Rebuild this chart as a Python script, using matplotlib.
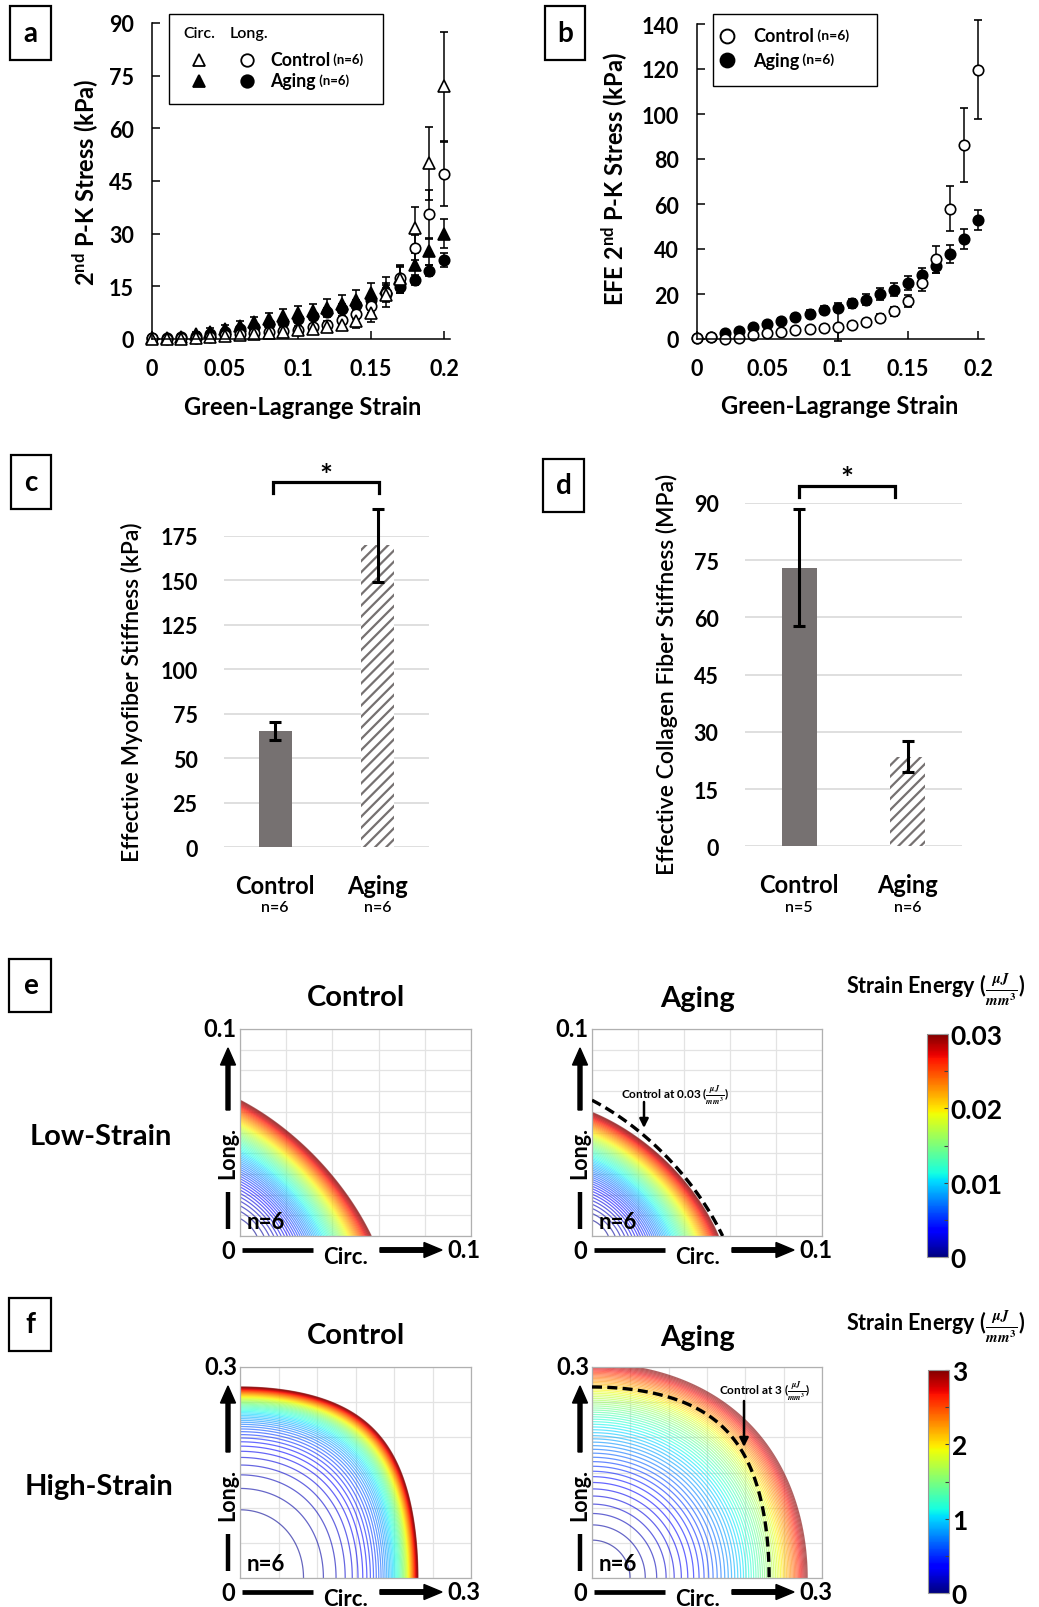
"""
aging myocardium: biaxial stress-strain, fitted stiffness, strain energy maps
"""
import numpy as np
import matplotlib
matplotlib.use('Agg')
import matplotlib.pyplot as plt
from matplotlib.patches import Rectangle
from matplotlib.colors import Normalize
from matplotlib.cm import ScalarMappable

plt.rcParams['font.family'] = ['Lato', 'DejaVu Sans']
plt.rcParams['font.weight'] = 'bold'
plt.rcParams['axes.labelweight'] = 'bold'
plt.rcParams['mathtext.fontset'] = 'custom'
plt.rcParams['mathtext.rm'] = 'Lato'
plt.rcParams['mathtext.bf'] = 'Lato:bold'
plt.rcParams['mathtext.it'] = 'Lato:italic'
plt.rcParams['hatch.linewidth'] = 1.6

# ---------- data ----------
strain = [0.0, 0.01, 0.02, 0.03, 0.04, 0.05, 0.06, 0.07, 0.08, 0.09, 0.10,
          0.11, 0.12, 0.13, 0.14, 0.15, 0.16, 0.17, 0.18, 0.19, 0.20]

# (a) 2nd P-K stress, kPa
circ_ctrl = [0.0, 0.0, 0.0, 0.3, 0.6, 0.9, 1.2, 1.5, 1.8, 2.1, 2.5,
             2.9, 3.4, 4.1, 5.0, 7.4, 12.5, 17.0, 31.5, 50.0, 72.0]
circ_ctrl_err = [0.2, 0.2, 0.3, 0.4, 0.5, 0.6, 0.7, 0.8, 0.9, 1.0, 1.1,
                 1.2, 1.3, 1.5, 1.8, 2.5, 3.5, 4.0, 6.0, 10.5, 15.5]
long_ctrl = [0.3, 0.1, 0.2, 0.4, 0.7, 1.0, 1.3, 1.6, 1.9, 2.3, 2.7,
             3.3, 4.1, 5.3, 7.2, 9.5, 13.0, 17.5, 26.0, 35.5, 47.0]
long_ctrl_err = [0.2, 0.2, 0.3, 0.3, 0.4, 0.4, 0.5, 0.5, 0.6, 0.7, 0.8,
                 0.9, 1.0, 1.2, 1.5, 2.0, 2.5, 3.0, 3.5, 7.0, 9.0]
circ_aging = [0.2, 0.3, 0.7, 1.3, 2.1, 2.9, 3.7, 4.7, 5.7, 6.6, 7.3,
              7.9, 8.9, 10.0, 11.0, 13.0, 14.5, 17.5, 21.0, 25.0, 30.0]
circ_aging_err = [0.3, 0.4, 0.6, 0.8, 1.0, 1.2, 1.4, 1.6, 1.8, 2.0, 2.1,
                  2.2, 2.4, 2.6, 2.9, 3.0, 3.2, 3.3, 3.5, 3.8, 4.2]
long_aging = [0.4, 0.2, 0.5, 0.9, 1.5, 2.1, 2.8, 3.4, 4.2, 4.9, 5.8,
              6.6, 7.6, 8.6, 9.6, 11.0, 12.8, 14.8, 16.8, 19.5, 22.5]
long_aging_err = [0.2, 0.2, 0.3, 0.4, 0.5, 0.6, 0.7, 0.8, 0.9, 1.0, 1.0,
                  1.1, 1.2, 1.3, 1.4, 1.5, 1.6, 1.6, 1.4, 1.5, 2.0]

# (b) EFE 2nd P-K stress, kPa
efe_ctrl = [0.5, 0.8, 0.0, 0.5, 1.8, 2.6, 3.3, 3.8, 4.4, 4.9, 5.5,
            6.4, 7.4, 9.3, 12.3, 17.0, 25.0, 35.5, 57.8, 86.2, 119.7]
efe_ctrl_err = [0.3, 0.3, 0.4, 0.5, 0.6, 0.8, 0.9, 1.0, 1.1, 1.2, 6.5,
                1.3, 1.4, 1.6, 2.0, 2.6, 3.5, 6.0, 10.0, 16.5, 22.0]
efe_aging = [0.5, 0.8, 2.5, 3.5, 5.3, 6.5, 8.0, 9.6, 11.3, 12.7, 14.0,
             15.8, 17.5, 20.0, 22.0, 25.0, 28.5, 32.5, 37.7, 44.3, 53.0]
efe_aging_err = [0.3, 0.4, 0.6, 0.8, 1.0, 1.1, 1.3, 1.5, 1.7, 1.8, 2.0,
                 2.1, 2.3, 2.5, 2.8, 3.0, 3.2, 3.3, 4.0, 4.5, 4.5]

# (c), (d) fitted stiffness
groups = ['Control', 'Aging']
myo_stiff = [65.2, 169.5]
myo_err = [5.0, 20.5]
myo_n = ['n=6', 'n=6']
col_stiff = [73.0, 23.5]
col_err = [15.3, 4.0]
col_n = ['n=5', 'n=6']

# (e), (f) strain energy maps
# [circ. intercept, long. intercept, squareness, coupling, energy stiffening]
low_ctrl_shape = [0.0568, 0.0656, 0.001, 0.50, 0.3]
low_aging_shape = [0.0550, 0.0597, 0.001, 0.42, 0.3]
high_ctrl_shape = [0.231, 0.2716, 0.7, 0.0, 3.0]
high_aging_shape = [0.2806, 0.305, 0.2, 0.0, 1.0]
low_wmax = 0.03
high_wmax = 3.0

W, H = 1039, 1608
fig = plt.figure(figsize=(W / 100, H / 100), dpi=100)


def px_rect(l, t, r, b):
    return [l / W, 1 - b / H, (r - l) / W, (b - t) / H]


def no_clip(container):
    for art in container.get_children():
        art.set_clip_on(False)


def strain_energy(ec, el, shape, wmax):
    xc, yl, p, r, q = shape
    u, v = ec / xc, el / yl
    g = (np.expm1(p * u ** 2) + np.expm1(p * v ** 2)) / np.expm1(p) + 2 * r * u * v
    return wmax * np.expm1(q * g) / np.expm1(q)


# ---------- (a) ----------
ax1 = fig.add_axes(px_rect(152, 24, 450, 340))
for y, e, m, fc in [(long_aging, long_aging_err, 'o', 'k'),
                    (circ_aging, circ_aging_err, '^', 'k'),
                    (long_ctrl, long_ctrl_err, 'o', 'white'),
                    (circ_ctrl, circ_ctrl_err, '^', 'white')]:
    c = ax1.errorbar(strain, y, yerr=e, fmt=m, ms=8 if m == '^' else 7.5, mfc=fc, mec='k',
                     mew=1.2, ecolor='k', elinewidth=1.1, capsize=3, capthick=1.1)
    no_clip(c)
ax1.set_xlim(0, 0.2041)
ax1.set_ylim(0, 90)
ax1.set_yticks(range(0, 91, 15))
ax1.set_xticks([0, 0.05, 0.1, 0.15, 0.2], ['0', '0.05', '0.1', '0.15', '0.2'])
ax1.tick_params(direction='in', length=6, width=1.1, labelsize=15.5)
ax1.tick_params(axis='x', pad=14)
ax1.tick_params(axis='y', pad=13)
ax1.spines[['top', 'right']].set_visible(False)
ax1.spines[['left', 'bottom']].set_linewidth(1.1)
ax1.set_ylabel(r'2$^{\mathbf{nd}}$ P-K Stress (kPa)', fontsize=17)
ax1.yaxis.set_label_coords(-0.171, 0.5)
ax1.set_xlabel('Green-Lagrange Strain', fontsize=17)
ax1.xaxis.set_label_coords(0.507, -0.176)

# ---------- (b) ----------
ax2 = fig.add_axes(px_rect(697, 25, 984, 340))
for y, e, fc in [(efe_aging, efe_aging_err, 'k'), (efe_ctrl, efe_ctrl_err, 'white')]:
    c = ax2.errorbar(strain, y, yerr=e, fmt='o', ms=7.5, mfc=fc, mec='k', mew=1.2,
                     ecolor='k', elinewidth=1.1, capsize=3, capthick=1.1)
    no_clip(c)
ax2.set_xlim(0, 0.204)
ax2.set_ylim(0, 140)
ax2.set_yticks(range(0, 141, 20))
ax2.set_xticks([0, 0.05, 0.1, 0.15, 0.2], ['0', '0.05', '0.1', '0.15', '0.2'])
ax2.tick_params(direction='in', length=6, width=1.1, labelsize=15.5)
ax2.tick_params(axis='x', pad=14)
ax2.tick_params(axis='y', pad=13)
ax2.spines[['top', 'right']].set_visible(False)
ax2.spines[['left', 'bottom']].set_linewidth(1.1)
ax2.set_ylabel(r'EFE 2$^{\mathbf{nd}}$ P-K Stress (kPa)', fontsize=17)
ax2.yaxis.set_label_coords(-0.233, 0.51)
ax2.set_xlabel('Green-Lagrange Strain', fontsize=17)
ax2.xaxis.set_label_coords(0.498, -0.176)


# ---------- (c), (d) ----------
def stiff_panel(rect, vals, errs, ns, ymax, ystep, ylabel, lab_x, lab_y, n_y):
    ax = fig.add_axes(px_rect(*rect))
    x = np.arange(len(groups))
    ax.bar(x[0], vals[0], width=0.32, color='#767171', linewidth=0, zorder=2)
    ax.bar(x[1], vals[1], width=0.32, color='white', edgecolor='#767171', hatch='///',
           linewidth=0, zorder=2)
    c = ax.errorbar(x, vals, yerr=errs, fmt='none', ecolor='k', elinewidth=2.2,
                    capsize=4, capthick=2.2, zorder=3)
    no_clip(c)
    ax.set_xlim(-0.5, 1.5)
    ax.set_ylim(0, ymax)
    ax.set_yticks(np.arange(0, ymax + 1, ystep))
    ax.yaxis.grid(True, color='#d9d9d9', lw=1.2)
    ax.set_axisbelow(True)
    for s in ax.spines.values():
        s.set_visible(False)
    ax.tick_params(length=0, labelsize=15.5)
    ax.tick_params(axis='y', pad=19)
    ax.set_xticks(x, groups, fontsize=17)
    ax.tick_params(axis='x', pad=19)
    for i, n in enumerate(ns):
        ax.text(x[i], n_y, n, transform=ax.get_xaxis_transform(), ha='center', va='center',
                fontsize=11.5, fontweight='semibold')
    ax.set_ylabel(ylabel, fontsize=16.5, fontweight='semibold')
    ax.yaxis.set_label_coords(lab_x, lab_y)
    return ax


ax3 = stiff_panel((224, 536.7, 429, 848.3), myo_stiff, myo_err, myo_n, 175, 25,
                  'Effective Myofiber Stiffness (kPa)', -0.395, 0.5, -0.19)
ax4 = stiff_panel((745, 504, 962, 847.3), col_stiff, col_err, col_n, 90, 15,
                  'Effective Collagen Fiber Stiffness (MPa)', -0.309, 0.505, -0.176)


# ---------- (e), (f) ----------
def energy_panel(rect, shape, wmax, lim, xstep, ystep, nlev, dashed=None):
    ax = fig.add_axes(px_rect(*rect))
    g = np.linspace(0, lim, 500)
    ec, el = np.meshgrid(g, g)
    z = strain_energy(ec, el, shape, wmax)
    ax.contour(ec, el, z, levels=np.linspace(wmax / nlev, wmax, nlev), cmap='jet',
               norm=Normalize(0, wmax), linewidths=0.9, alpha=0.6, zorder=2)
    if dashed is not None:
        zc = strain_energy(ec, el, dashed, wmax)
        ax.contour(ec, el, zc, levels=[wmax], colors='k', linewidths=2.4,
                   linestyles=[(0, (3, 1.6))], zorder=3)
    ax.set_xlim(0, lim)
    ax.set_ylim(0, lim)
    ax.set_xticks(np.arange(0, lim + 1e-9, xstep))
    ax.set_yticks(np.arange(0, lim + 1e-9, ystep))
    ax.grid(True, color='#e3e3e3', lw=0.9)
    ax.set_axisbelow(True)
    ax.tick_params(length=0, labelbottom=False, labelleft=False)
    for s in ax.spines.values():
        s.set_color('#b0b0b0')
        s.set_linewidth(0.9)
    ax.text(0.03, 0.07, 'n=6', transform=ax.transAxes, fontsize=16, va='center', ha='left',
            zorder=4)
    return ax


e_ctrl = (240, 1030, 471, 1237)
e_aging = (592, 1030, 822, 1237)
f_ctrl = (240, 1368, 471, 1579)
f_aging = (592, 1368, 822, 1579)
energy_panel(e_ctrl, low_ctrl_shape, low_wmax, 0.1, 0.02, 0.01, 70)
energy_panel(e_aging, low_aging_shape, low_wmax, 0.1, 0.02, 0.01, 70, dashed=low_ctrl_shape)
energy_panel(f_ctrl, high_ctrl_shape, high_wmax, 0.3, 0.05, 0.05, 60)
energy_panel(f_aging, high_aging_shape, high_wmax, 0.3, 0.05, 0.05, 60, dashed=high_ctrl_shape)

for rect, wmax, step, labs in [((927, 1035, 948, 1258), low_wmax, 0.005, ['0', '0.01', '0.02', '0.03']),
                               ((928, 1371, 949, 1594), high_wmax, 0.5, ['0', '1', '2', '3'])]:
    cax = fig.add_axes(px_rect(*rect))
    cb = fig.colorbar(ScalarMappable(norm=Normalize(0, wmax), cmap='jet'), cax=cax)
    ticks = np.arange(0, wmax + 1e-9, step)
    cb.set_ticks(ticks, labels=[labs[i // 2] if i % 2 == 0 else '' for i in range(len(ticks))])
    cax.tick_params(direction='in', length=3, width=0.8, color='#404040', labelsize=19, pad=2)
    cb.outline.set_edgecolor('#999999')
    cb.outline.set_linewidth(0.8)

# ---------- overlay: labels, legends, brackets, arrows ----------
ov = fig.add_axes([0, 0, 1, 1])
ov.set_xlim(0, W)
ov.set_ylim(H, 0)
ov.set_axis_off()

for lab, (l, t, r, b) in [('a', (10, 7, 51, 61)), ('b', (545, 7, 585, 61)),
                          ('c', (11, 456, 51, 510)), ('d', (543, 460, 584, 513)),
                          ('e', (9, 960, 51, 1013)), ('f', (9, 1299, 51, 1352))]:
    ov.add_patch(Rectangle((l, t), r - l, b - t, fill=False, ec='k', lw=1.6))
    ov.text((l + r) / 2, (t + b) / 2, lab, ha='center', va='center', fontsize=20)

# legend (a)
ov.add_patch(Rectangle((169, 15), 214, 90, fill=False, ec='k', lw=1.0))
ov.text(199, 34, 'Circ.', ha='center', va='center', fontsize=11.5, fontweight='semibold')
ov.text(249, 34, 'Long.', ha='center', va='center', fontsize=11.5, fontweight='semibold')
for yy, fc, name in [(61, 'white', 'Control'), (82, 'k', 'Aging')]:
    ov.plot([199], [yy], marker='^', ms=9, mfc=fc, mec='k', mew=1.3)
    ov.plot([247], [yy], marker='o', ms=9, mfc=fc, mec='k', mew=1.3)
    t = ov.text(270, yy, name, ha='left', va='center', fontsize=12.8)
    ov.annotate(' (n=6)', xy=(1, 0.22), xycoords=t, ha='left', va='bottom', fontsize=9.5)

# legend (b)
ov.add_patch(Rectangle((713, 15), 164, 72, fill=False, ec='k', lw=1.0))
for yy, fc, name in [(37, 'white', 'Control'), (61, 'k', 'Aging')]:
    ov.plot([727], [yy], marker='o', ms=10, mfc=fc, mec='k', mew=1.4)
    t = ov.text(753, yy, name, ha='left', va='center', fontsize=13)
    ov.annotate(' (n=6)', xy=(1, 0.22), xycoords=t, ha='left', va='bottom', fontsize=10)

# significance brackets
for x0, x1, yb, ys in [(273, 379, 483, 477), (799, 895, 487, 480)]:
    ov.plot([x0, x0, x1, x1], [yb + 11, yb, yb, yb + 11], color='k', lw=2.3,
            solid_joinstyle='miter')
    ov.text((x0 + x1) / 2, ys, '*', ha='center', va='center', fontsize=22)

# row and column headings
ov.text(101, 1137, 'Low-Strain', ha='center', va='center', fontsize=21)
ov.text(99, 1487, 'High-Strain', ha='center', va='center', fontsize=21)
for x, y, s in [(356, 998, 'Control'), (698, 999, 'Aging'),
                (356, 1336, 'Control'), (698, 1338, 'Aging')]:
    ov.text(x, y, s, ha='center', va='center', fontsize=21)
for y in [990, 1327]:
    ov.text(936, y, r'Strain Energy ($\frac{\mu J}{mm^3}$)', ha='center', va='center',
            fontsize=15.5, math_fontfamily='stix')


def frame_arrows(l, t, r, b, top, right):
    ax_x = l - 12
    ov.text(l - 3, t, top, ha='right', va='center', fontsize=17)
    ov.text(ax_x, b + 15, '0', ha='center', va='center', fontsize=17)
    ov.plot([ax_x, ax_x], [b - 7, b - 44], color='k', lw=3.2, solid_capstyle='butt')
    ov.arrow(ax_x, b - 126, 0, (t + 19) - (b - 126), width=4, head_width=15,
             head_length=17, length_includes_head=True, color='k')
    ov.text(ax_x, b - 84, 'Long.', rotation=90, ha='center', va='center', fontsize=15.5)
    ov.plot([l + 2, l + 73], [b + 14, b + 14], color='k', lw=3.4, solid_capstyle='butt')
    ov.text(l + 106, b + 21, 'Circ.', ha='center', va='center', fontsize=16)
    ov.arrow(l + 140, b + 14, 62, 0, width=4.5, head_width=15, head_length=18,
             length_includes_head=True, color='k')
    ov.text(l + 207, b + 14, right, ha='left', va='center', fontsize=17)


frame_arrows(*e_ctrl, '0.1', '0.1')
frame_arrows(*e_aging, '0.1', '0.1')
frame_arrows(*f_ctrl, '0.3', '0.3')
frame_arrows(*f_aging, '0.3', '0.3')

# callouts on aging maps
for x, y, s, xa, ya, yb in [(675, 1095, r'Control at 0.03 ($\frac{\mu J}{mm^3}$)', 644, 1103, 1129),
                            (765, 1391, r'Control at 3 ($\frac{\mu J}{mm^3}$)', 744, 1402, 1448)]:
    ov.text(x, y, s, ha='center', va='center', fontsize=8.5, math_fontfamily='stix')
    ov.annotate('', xy=(xa, yb), xytext=(xa, ya),
                arrowprops=dict(arrowstyle='-|>', color='k', lw=1.8, mutation_scale=13,
                                shrinkA=0, shrinkB=0))

fig.savefig('out.png', dpi=100)
